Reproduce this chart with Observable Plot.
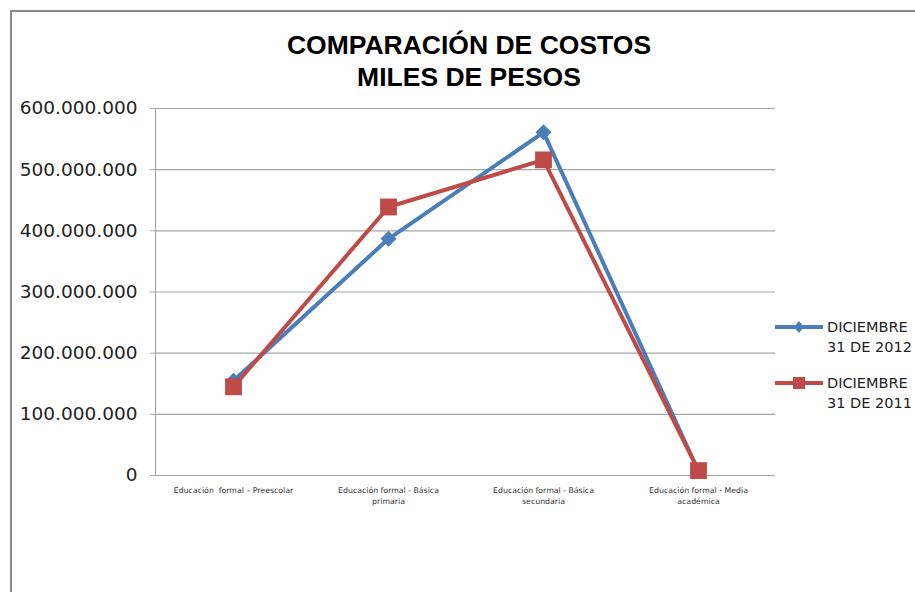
<!DOCTYPE html>
<html>
<head>
<meta charset="utf-8">
<script src="https://cdn.jsdelivr.net/npm/d3@7"></script>
<script src="https://cdn.jsdelivr.net/npm/@observablehq/plot@0.6"></script>
<style>
  html, body { margin: 0; padding: 0; background: #fff; }
  #wrap { position: relative; width: 915px; height: 592px; overflow: hidden; background: #fff; }
  #border { position: absolute; left: 10px; top: 10px; width: 1000px; height: 1000px;
            border-left: 2px solid #8a8a8a; border-top: 2px solid #8a8a8a; }
  .title { position: absolute; left: 0; width: 938px; text-align: center;
           font-family: "Liberation Sans", sans-serif; font-weight: 700; font-size: 26.5px;
           line-height: 32px; height: 32px; color: #000; }
  #chart { position: absolute; left: 0; top: 0; }
  #legend { position: absolute; left: 773px; top: 316px; font-family: "DejaVu Sans", sans-serif;
            font-size: 14.5px; color: #222; white-space: nowrap; }
  .item { position: relative; height: 56px; }
  .item svg { position: absolute; left: 0; top: 0; }
  .item .lab { position: absolute; left: 54px; top: 1px; line-height: 20px; }
</style>
</head>
<body>
<div id="wrap">
  <div id="border"></div>
  <div id="chart"></div>
  <div class="title" style="top:29px">COMPARACIÓN DE COSTOS</div>
  <div class="title" style="top:61px">MILES DE PESOS</div>
  <div id="legend"></div>
</div>
<script>
const categories = [
  "Educación  formal – Preescolar",
  "Educación formal - Básica primaria",
  "Educación formal - Básica secundaria",
  "Educación formal - Media académica"
];
const tickLabels = [
  "Educación  formal – Preescolar",
  "Educación formal - Básica\nprimaria",
  "Educación formal - Básica\nsecundaria",
  "Educación formal - Media\nacadémica"
];
const seriesNames = ["DICIEMBRE 31 DE 2012", "DICIEMBRE 31 DE 2011"];
const legendLines = [["DICIEMBRE", "31 DE 2012"], ["DICIEMBRE", "31 DE 2011"]];
const values2012 = [155000000, 387000000, 561000000, 7000000];
const values2011 = [145000000, 439000000, 516000000, 8000000];
const yTicks = [0, 100000000, 200000000, 300000000, 400000000, 500000000, 600000000];

const colors = ["#4A7EBB", "#BE4B48"];

const d2012 = categories.map((c, i) => ({cat: c, value: values2012[i], series: seriesNames[0]}));
const d2011 = categories.map((c, i) => ({cat: c, value: values2011[i], series: seriesNames[1]}));

const fmt = d3.formatLocale({decimal: ",", thousands: ".", grouping: [3], currency: ["$", ""]}).format(",d");
const labelOf = new Map(categories.map((c, i) => [c, tickLabels[i]]));

const plot = Plot.plot({
  width: 915,
  height: 592,
  marginTop: 108,
  marginBottom: 117,
  marginLeft: 155,
  marginRight: 140,
  style: {background: "transparent", overflow: "visible"},
  x: {type: "point", domain: categories, padding: 0.5},
  y: {domain: [0, 600000000]},
  color: {domain: seriesNames, range: colors},
  marks: [
    Plot.ruleY(yTicks, {stroke: "#a6a6a6", strokeWidth: 1.2}),
    Plot.frame({anchor: "left", stroke: "#a6a6a6", strokeWidth: 1.2}),
    Plot.axisY({ticks: yTicks, tickFormat: fmt, tickSize: 5, tickPadding: 13,
                stroke: "#a6a6a6", fontSize: 18.5, fontFamily: "DejaVu Sans", fill: "#222", label: null}),
    Plot.axisX({tickSize: 0, tickPadding: 9, fontSize: 7.8, fontFamily: "DejaVu Sans", fill: "#333",
                lineHeight: 1.45, tickFormat: d => labelOf.get(d), label: null}),
    Plot.line(d2012, {x: "cat", y: "value", stroke: "series", strokeWidth: 4}),
    Plot.dot(d2012, {x: "cat", y: "value", fill: "series", symbol: "diamond2", r: 7.2, stroke: null}),
    Plot.line(d2011, {x: "cat", y: "value", stroke: "series", strokeWidth: 4}),
    Plot.dot(d2011, {x: "cat", y: "value", fill: "series", symbol: "square", r: 9.5, stroke: null})
  ]
});
document.getElementById("chart").appendChild(plot);

// legend
const legend = document.getElementById("legend");
seriesNames.forEach((s, i) => {
  const item = document.createElement("div");
  item.className = "item";
  const sym = i === 0
    ? `<path d="M26,5 L31,11 L26,17 L21,11 Z" fill="${colors[i]}"/>`
    : `<rect x="20" y="5" width="12" height="12" fill="${colors[i]}"/>`;
  item.innerHTML = `<svg width="54" height="22"><line x1="2" x2="50" y1="11" y2="11" stroke="${colors[i]}" stroke-width="4"/>${sym}</svg><div class="lab">${legendLines[i][0]}<br>${legendLines[i][1]}</div>`;
  legend.appendChild(item);
});
</script>
</body>
</html>
